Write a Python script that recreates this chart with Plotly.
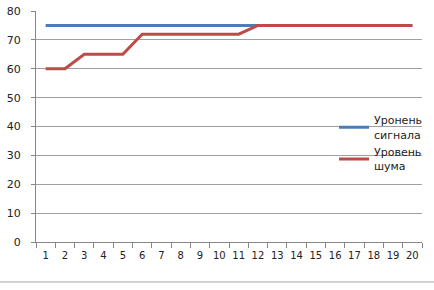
import plotly.graph_objects as go

categories = [str(i) for i in range(1, 21)]
signal = [75] * 20
noise = [60, 60, 65, 65, 65, 72, 72, 72, 72, 72, 72, 75, 75, 75, 75, 75, 75, 75, 75, 75]
series_names = ["Уронень<br>сигнала", "Уровень<br>шума"]
y_ticks = [0, 10, 20, 30, 40, 50, 60, 70, 80]

fig = go.Figure()
fig.add_trace(go.Scatter(x=categories, y=signal, mode="lines", name=series_names[0],
                         line=dict(color="#4A7EBB", width=3)))
fig.add_trace(go.Scatter(x=categories, y=noise, mode="lines", name=series_names[1],
                         line=dict(color="#BE4B48", width=3)))

W, H = 434, 290
L, R, T, B = 36, 12, 5, 48
pw = W - L - R
ph = H - T - B

fig.update_layout(
    width=W, height=H,
    margin=dict(l=L, r=R, t=T, b=B),
    paper_bgcolor="white", plot_bgcolor="white",
    font=dict(family="DejaVu Sans", size=10, color="#222222"),
    showlegend=True,
    legend=dict(x=(334 - L) / pw, y=1 - (103 - T) / ph, xanchor="left", yanchor="top",
                bgcolor="rgba(0,0,0,0)", itemwidth=30, tracegroupgap=5,
                font=dict(size=11, color="#222222")),
    xaxis=dict(type="category", tickson="boundaries", ticks="outside", ticklen=5,
               tickcolor="#868686", showline=True, linecolor="#868686", linewidth=1,
               showgrid=False, range=[-0.5, 19.5], tickfont=dict(size=10),
               tickangle=0, ticklabelstandoff=4),
    yaxis=dict(range=[0, 80.02], tickvals=y_ticks, ticks="outside", ticklen=4,
               tickcolor="#868686", showline=True, linecolor="#868686", linewidth=1,
               showgrid=True, gridcolor="#A0A0A0", gridwidth=1, zeroline=False,
               tickfont=dict(size=11), ticklabelstandoff=8, ticklabeloverflow="allow"),
)
fig.add_shape(type="line", xref="paper", yref="paper",
              x0=-L / pw, x1=(W - L) / pw, y0=-(283 - (H - B)) / ph, y1=-(283 - (H - B)) / ph,
              line=dict(color="#A6A6A6", width=1))
fig.write_html("out.html")
